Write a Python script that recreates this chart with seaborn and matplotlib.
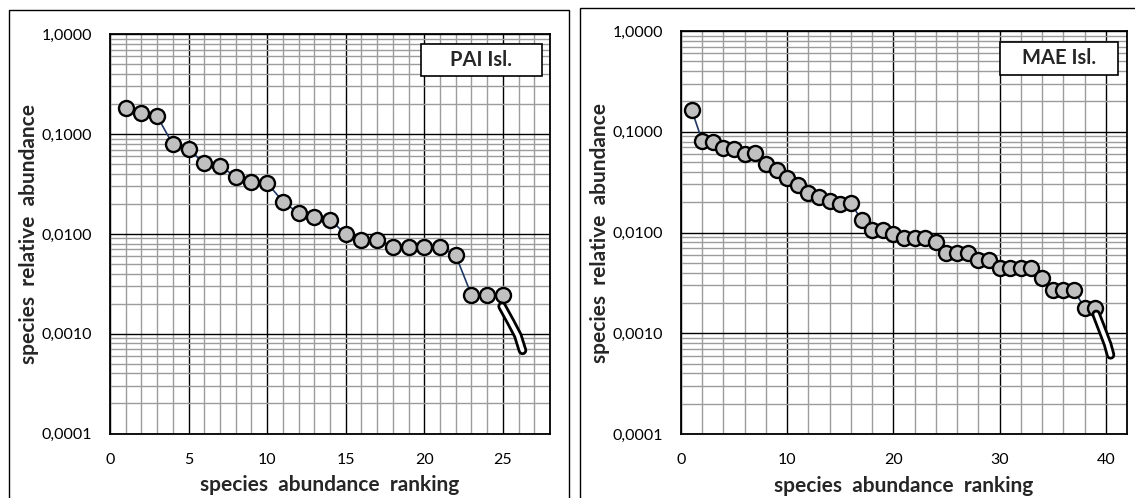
import numpy as np
import pandas as pd
import seaborn as sns
import matplotlib
matplotlib.use("Agg")
import matplotlib.pyplot as plt
from matplotlib.ticker import MultipleLocator, LogLocator, FuncFormatter, NullFormatter
from matplotlib.patches import Rectangle

# ---------------- data ----------------
pai_rank = list(range(1, 26))
pai_abund = [0.181, 0.161, 0.151, 0.0789, 0.0708, 0.0509, 0.0482, 0.0372, 0.0331, 0.0324,
             0.0211, 0.0161, 0.0149, 0.0138, 0.0100, 0.0087, 0.0087, 0.0074, 0.0074, 0.0074,
             0.0074, 0.0061, 0.00245, 0.00245, 0.00245]
pai_tail_x = [24.95, 25.5, 25.95, 26.25]
pai_tail_y = [0.00188, 0.00131, 0.00096, 0.00068]

mae_rank = list(range(1, 40))
mae_abund = [0.166, 0.0808, 0.0789, 0.0693, 0.0673, 0.0600, 0.0610, 0.0484, 0.0416, 0.0349,
             0.0295, 0.0244, 0.0223, 0.0205, 0.0194, 0.0196, 0.0133, 0.0107, 0.0107, 0.00956,
             0.00887, 0.00887, 0.00887, 0.00798, 0.00630, 0.00630, 0.00630, 0.00534, 0.00534, 0.00442,
             0.00442, 0.00442, 0.00442, 0.00353, 0.00267, 0.00267, 0.00267, 0.00179, 0.00179]
mae_tail_x = [39.1, 39.75, 40.17, 40.45]
mae_tail_y = [0.00154, 0.00102, 0.00078, 0.00061]

y_ticks = [0.0001, 0.001, 0.01, 0.1, 1.0]
y_ticklabels = ["0,0001", "0,0010", "0,0100", "0,1000", "1,0000"]

panels = [
    dict(name="PAI Isl.", x=pai_rank, y=pai_abund, tx=pai_tail_x, ty=pai_tail_y,
         xmax=28, major=5, minor=1),
    dict(name="MAE Isl.", x=mae_rank, y=mae_abund, tx=mae_tail_x, ty=mae_tail_y,
         xmax=42, major=10, minor=2),
]

# ---------------- style ----------------
sns.set_style("white")
plt.rcParams['font.family'] = ['Lato', 'DejaVu Sans']

W, H = 1135, 498
fig = plt.figure(figsize=(W / 100, H / 100), dpi=100)

def fig_rect(x0, y0, x1, y1):
    # pixel coords (top-left origin) -> figure fraction [l, b, w, h]
    return [x0 / W, 1 - y1 / H, (x1 - x0) / W, (y1 - y0) / H]

# panel frames
for (x0, y0, x1, y1) in [(8.5, 10.5, 568.5, 520), (579.5, 7.5, 1160, 520)]:
    fig.patches.append(Rectangle((x0 / W, 1 - y1 / H), (x1 - x0) / W, (y1 - y0) / H,
                                 transform=fig.transFigure, fill=False,
                                 edgecolor="black", linewidth=1.0, zorder=0))

axes_px = [(110, 34.3, 550, 433.5), (681, 31, 1127, 434)]
label_x_px = [29, 600]
box_px = [(421, 44.3, 541.7, 76), (1000, 41.7, 1117.7, 75)]

for p, apx, lxp, bpx in zip(panels, axes_px, label_x_px, box_px):
    ax = fig.add_axes(fig_rect(*apx))
    df = pd.DataFrame({"rank": p["x"], "abund": p["y"]})
    sns.lineplot(data=df, x="rank", y="abund", ax=ax, color="#1F3864", linewidth=1.2,
                 marker="o", markersize=10.8, markerfacecolor="#C0C0C0",
                 markeredgecolor="black", markeredgewidth=1.7, zorder=3)
    dt = pd.DataFrame({"rank": p["tx"], "abund": p["ty"]})
    sns.lineplot(data=dt, x="rank", y="abund", ax=ax, color="black", linewidth=6.8,
                 solid_capstyle="round", solid_joinstyle="round", zorder=4)
    sns.lineplot(data=dt, x="rank", y="abund", ax=ax, color="white", linewidth=2.8,
                 solid_capstyle="round", solid_joinstyle="round", zorder=5)

    ax.set_yscale("log")
    ax.set_ylim(1e-4, 1.0)
    ax.set_xlim(0, p["xmax"])
    ax.xaxis.set_major_locator(MultipleLocator(p["major"]))
    ax.xaxis.set_minor_locator(MultipleLocator(p["minor"]))
    ax.set_yticks(y_ticks)
    ax.set_yticklabels(y_ticklabels)
    ax.yaxis.set_minor_locator(LogLocator(base=10, subs=np.arange(2, 10)))
    ax.yaxis.set_minor_formatter(NullFormatter())
    ax.xaxis.set_major_formatter(FuncFormatter(lambda v, pos: f"{int(round(v))}"))

    ax.grid(which="minor", color="#9c9c9c", linewidth=1.0)
    ax.grid(which="major", color="black", linewidth=1.0)
    ax.set_axisbelow(True)
    ax.tick_params(which="both", length=0)
    ax.tick_params(axis="y", which="major", pad=13, labelsize=11.5, colors="black")
    ax.tick_params(axis="x", which="major", pad=14, labelsize=11.5, colors="black")
    for s in ax.spines.values():
        s.set_color("black")
        s.set_linewidth(1.3)
        s.set_zorder(6)

    ax.set_xlabel("species  abundance  ranking", fontsize=15, fontweight="bold", labelpad=6)
    ax.set_ylabel("")
    fig.text(lxp / W, 1 - ((apx[1] + apx[3]) / 2) / H, "species  relative  abundance",
             rotation=90, ha="center", va="center", fontsize=15, fontweight="bold")

    # label box
    bx0, by0, bx1, by1 = bpx
    fig.patches.append(Rectangle((bx0 / W, 1 - by1 / H), (bx1 - bx0) / W, (by1 - by0) / H,
                                 transform=fig.transFigure, facecolor="white",
                                 edgecolor="black", linewidth=1.2, zorder=10))
    fig.text((bx0 + bx1) / 2 / W, 1 - (by0 + by1) / 2 / H, p["name"], ha="center", va="center",
             fontsize=14.5, fontweight="bold", zorder=11)

fig.savefig("out.png", dpi=100)
